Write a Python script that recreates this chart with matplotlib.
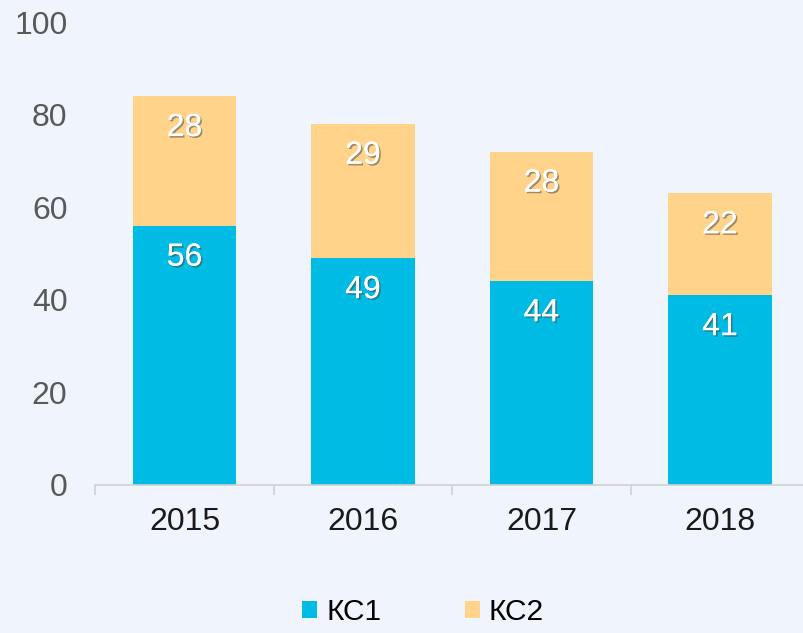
import matplotlib.pyplot as plt
import matplotlib.patheffects as pe
import numpy as np

plt.rcParams['font.family'] = ['Liberation Sans', 'DejaVu Sans']

# Data
years = ['2015', '2016', '2017', '2018']
ks1 = [56, 49, 44, 41]
ks2 = [28, 29, 28, 22]
series_names = ['КС1', 'КС2']

BG = '#EFF4FD'
C1 = '#00BCE4'
C2 = '#FFD38A'
FS = 23

fig = plt.figure(figsize=(8.04, 6.33), dpi=100, facecolor=BG)
ax = fig.add_axes([95.25 / 804, 1 - 485 / 633, 714 / 804, 463 / 633])
ax.set_facecolor(BG)

x = np.arange(len(years))
w = 0.58
b1 = ax.bar(x, ks1, w, color=C1, label=series_names[0], zorder=2)
b2 = ax.bar(x, ks2, w, bottom=ks1, color=C2, label=series_names[1], zorder=2)

shadow = [pe.withSimplePatchShadow(offset=(1.2, -1.2), shadow_rgbFace='#444444', alpha=0.5), pe.Normal()]
for i in range(len(years)):
    ax.annotate(str(ks1[i]), (x[i], ks1[i]), xytext=(0, -23), textcoords='offset points',
                ha='center', va='center', color='white', fontsize=FS, path_effects=shadow, zorder=3)
    ax.annotate(str(ks2[i]), (x[i], ks1[i] + ks2[i]), xytext=(0, -23), textcoords='offset points',
                ha='center', va='center', color='white', fontsize=FS, path_effects=shadow, zorder=3)

ax.set_xlim(-0.5, len(years) - 0.5)
ax.set_ylim(0, 100)
ax.set_yticks(range(0, 101, 20))
ax.tick_params(axis='y', length=0, labelsize=FS, labelcolor='#595959', pad=20)

ax.set_xticks(x)
ax.set_xticklabels(years)
ax.tick_params(axis='x', length=0, labelsize=FS, labelcolor='#1a1a1a', pad=16)
# category boundary ticks
ax.set_xticks(np.arange(-0.5, len(years), 1.0), minor=True)
ax.tick_params(axis='x', which='minor', length=7, color='#D0D0D0', width=1.2)

for s in ['top', 'right', 'left']:
    ax.spines[s].set_visible(False)
ax.spines['bottom'].set_color('#D0D0D0')
ax.spines['bottom'].set_linewidth(1.2)

leg = fig.legend(handles=[b1, b2], labels=series_names, loc='center', bbox_to_anchor=(423 / 804, 1 - 612 / 633),
                 ncol=2, frameon=False, fontsize=21.5, handlelength=0.5, handleheight=0.5,
                 handletextpad=0.3, columnspacing=2.8)

fig.savefig('out.png', dpi=100, facecolor=BG)
